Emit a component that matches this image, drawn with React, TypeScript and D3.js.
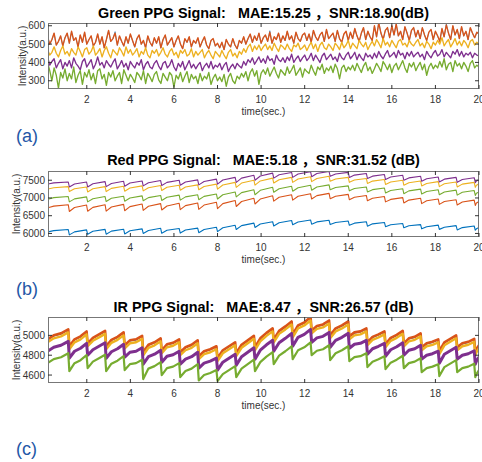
import * as d3 from "d3";

const FONT = "'Liberation Sans', Arial, 'Noto Sans CJK SC', sans-serif";
const BLUE = "#0072BD";
const ORANGE = "#D95319";
const YELLOW = "#EDB120";
const PURPLE = "#7E2F8E";
const GREEN = "#77AC30";

const X0 = 48;
const X1 = 479;
const xTicks = [2, 4, 6, 8, 10, 12, 14, 16, 18, 20];

// green channel: sampled every 0.1 s from 0.2 s
const greenTime = d3.range(199).map((i) => +(0.2 + i * 0.1).toFixed(2));

const gOrange = [
  540, 500, 525, 560, 495, 515, 545, 490, 535, 560,
  505, 570, 520, 535, 485, 550, 510, 565, 500, 525,
  545, 490, 510, 555, 500, 540, 480, 525, 575, 515,
  530, 560, 495, 545, 515, 490, 540, 505, 555, 520,
  485, 530, 550, 500, 520, 480, 545, 510, 490, 535,
  505, 540, 480, 525, 550, 495, 515, 535, 485, 520,
  545, 500, 475, 530, 510, 540, 485, 520, 505, 535,
  485, 515, 540, 495, 475, 520, 530, 490, 505, 480,
  510, 470, 525, 500, 485, 530, 495, 475, 520, 505,
  540, 500, 530, 555, 510, 545, 520, 560, 505, 535,
  550, 515, 565, 505, 540, 525, 560, 510, 545, 520,
  570, 525, 545, 505, 565, 530, 515, 550, 560, 520,
  555, 510, 575, 540, 520, 550, 565, 515, 580, 530,
  545, 560, 515, 575, 530, 510, 555, 570, 520, 565,
  530, 585, 545, 515, 560, 590, 525, 570, 540, 520,
  600, 540, 615, 560, 525, 575, 590, 535, 600, 550,
  610, 545, 570, 525, 595, 560, 520, 575, 590, 540,
  575, 530, 590, 550, 520, 565, 580, 525, 570, 545,
  515, 585, 540, 605, 560, 525, 600, 550, 580, 530,
  595, 545, 570, 525, 590, 560, 535, 565, 555,
];
const gBlue = [
  538, 498, 523, 558, 493, 513, 543, 488, 533, 558,
  503, 568, 518, 533, 483, 548, 508, 563, 498, 523,
  543, 488, 508, 553, 498, 538, 478, 523, 573, 513,
  528, 568, 493, 543, 513, 488, 538, 503, 553, 518,
  483, 528, 548, 498, 518, 478, 543, 508, 488, 533,
  503, 538, 478, 523, 548, 493, 513, 533, 483, 518,
  543, 498, 473, 528, 508, 538, 483, 518, 503, 533,
  483, 513, 538, 493, 473, 518, 528, 488, 503, 478,
  508, 468, 523, 498, 483, 528, 493, 473, 518, 503,
  538, 498, 528, 553, 508, 543, 518, 558, 503, 533,
  548, 513, 573, 503, 538, 523, 558, 508, 543, 518,
  568, 523, 543, 503, 563, 528, 513, 548, 558, 518,
  553, 508, 573, 538, 518, 548, 563, 513, 578, 528,
  543, 558, 513, 573, 528, 508, 553, 568, 518, 563,
  528, 583, 543, 513, 558, 588, 523, 568, 538, 518,
  598, 538, 621, 558, 523, 573, 588, 533, 598, 548,
  608, 543, 568, 523, 593, 558, 518, 573, 588, 538,
  573, 528, 588, 548, 518, 563, 578, 523, 568, 543,
  513, 583, 538, 611, 558, 523, 598, 548, 578, 528,
  593, 543, 568, 523, 588, 558, 533, 563, 553,
];
const gYellow = [
  470, 440, 455, 485, 450, 430, 465, 490, 445, 460,
  435, 475, 455, 440, 485, 460, 430, 470, 480, 445,
  460, 490, 440, 455, 475, 430, 465, 485, 450, 425,
  470, 455, 440, 480, 460, 435, 485, 450, 470, 440,
  455, 475, 430, 460, 445, 480, 440, 425, 465, 450,
  470, 435, 455, 480, 445, 430, 460, 475, 440, 455,
  425, 465, 450, 470, 435, 445, 475, 430, 460, 440,
  455, 470, 425, 450, 465, 440, 420, 460, 445, 430,
  465, 440, 420, 455, 470, 435, 450, 425, 460, 445,
  475, 455, 485, 500, 460, 490, 470, 495, 465, 485,
  500, 470, 490, 465, 505, 480, 460, 495, 485, 470,
  500, 475, 460, 495, 485, 505, 470, 480, 495, 465,
  490, 510, 475, 500, 460, 495, 510, 480, 470, 500,
  485, 465, 505, 490, 470, 510, 480, 495, 520, 475,
  505, 490, 475, 520, 500, 485, 510, 470, 495, 515,
  490, 525, 505, 480, 530, 495, 510, 485, 520, 500,
  480, 515, 525, 495, 505, 485, 520, 500, 490, 510,
  525, 490, 505, 480, 515, 500, 475, 510, 495, 520,
  500, 535, 490, 510, 525, 485, 505, 530, 495, 515,
  490, 520, 505, 480, 515, 525, 495, 510, 500,
];
const gPurple = [
  430, 385, 405, 420, 370, 395, 415, 365, 400, 380,
  410, 370, 425, 395, 380, 360, 405, 420, 375, 395,
  415, 365, 390, 430, 385, 400, 370, 410, 390, 375,
  400, 420, 365, 385, 410, 375, 395, 360, 405, 385,
  370, 400, 385, 415, 360, 390, 405, 375, 365, 395,
  410, 380, 360, 395, 405, 370, 385, 415, 375, 355,
  395, 375, 405, 360, 385, 410, 370, 390, 365, 385,
  400, 355, 380, 395, 370, 405, 365, 385, 375, 395,
  360, 385, 400, 350, 375, 390, 365, 395, 380, 370,
  405, 385, 415, 400, 425, 390, 410, 430, 400, 420,
  395, 435, 410, 420, 390, 440, 415, 405, 425, 400,
  430, 410, 445, 400, 420, 435, 405, 425, 440, 410,
  425, 450, 410, 440, 420, 400, 435, 450, 415, 430,
  445, 415, 430, 405, 450, 425, 415, 440, 455, 420,
  435, 455, 415, 445, 425, 410, 450, 430, 440, 420,
  450, 425, 460, 435, 420, 445, 465, 430, 440, 455,
  425, 465, 440, 450, 420, 455, 435, 460, 430, 445,
  455, 430, 445, 415, 460, 440, 425, 450, 465, 435,
  445, 470, 430, 455, 440, 425, 460, 445, 470, 435,
  460, 430, 450, 440, 455, 425, 450, 440, 435,
];
const gGreen = [
  400, 355, 300, 370, 330, 260, 345, 315, 365, 300,
  340, 310, 375, 290, 330, 355, 280, 345, 320, 360,
  305, 340, 285, 355, 365, 310, 335, 275, 345, 320,
  355, 300, 325, 345, 285, 360, 330, 300, 335, 315,
  290, 345, 330, 305, 355, 285, 340, 320, 295, 335,
  350, 305, 285, 340, 320, 300, 345, 330, 265, 330,
  310, 345, 295, 325, 350, 290, 335, 310, 325, 285,
  340, 300, 325, 310, 345, 280, 315, 335, 300, 320,
  295, 335, 270, 320, 340, 300, 285, 325, 310, 340,
  320, 350, 300, 345, 365, 325, 355, 280, 340, 360,
  335, 370, 325, 350, 375, 340, 315, 360, 345, 330,
  375, 340, 360, 385, 330, 350, 370, 320, 365, 350,
  340, 385, 355, 330, 375, 360, 390, 340, 370, 355,
  380, 345, 390, 365, 310, 370, 385, 350, 375, 360,
  385, 355, 395, 370, 345, 380, 400, 355, 375, 340,
  365, 395, 375, 350, 405, 385, 360, 390, 345, 380,
  395, 360, 385, 410, 370, 345, 395, 375, 400, 355,
  380, 400, 360, 390, 330, 375, 395, 365, 385, 370,
  405, 375, 420, 360, 390, 400, 350, 410, 380, 395,
  365, 400, 380, 350, 395, 410, 370, 385, 375,
];

// red / IR channels follow the heart beats: values just after each drop, along the rise and at the next drop
const beatTimes = [
  1.15, 1.99, 2.84, 3.69, 4.54, 5.39, 6.24, 7.09, 7.95, 8.81, 9.67, 10.53,
  11.4, 12.27, 13.12, 14.0, 14.83, 15.66, 16.5, 17.32, 18.13, 18.95, 19.78,
];

const rBlueLow = [6040, 5960, 5975, 5980, 5985, 6000, 6005, 6010, 6020, 6050, 6110, 6170, 6210, 6245, 6260, 6250, 6230, 6205, 6190, 6160, 6130, 6115, 6100, 6090];
const rBlueMid = [6080, 6045, 6060, 6065, 6075, 6085, 6090, 6095, 6110, 6160, 6220, 6265, 6300, 6325, 6325, 6310, 6290, 6270, 6245, 6215, 6190, 6175, 6165, 6130];
const rBlueHigh = [6110, 6100, 6115, 6120, 6130, 6145, 6140, 6150, 6175, 6230, 6290, 6330, 6365, 6380, 6370, 6350, 6330, 6310, 6280, 6250, 6235, 6220, 6210, 6170];

const rOrangeLow = [6720, 6620, 6625, 6630, 6640, 6650, 6660, 6670, 6680, 6700, 6760, 6830, 6910, 6940, 6970, 6980, 6950, 6920, 6890, 6860, 6840, 6820, 6800, 6790];
const rOrangeMid = [6770, 6730, 6735, 6745, 6755, 6765, 6775, 6785, 6800, 6840, 6900, 6970, 7020, 7050, 7065, 7050, 7020, 6990, 6960, 6940, 6920, 6900, 6885, 6860];
const rOrangeHigh = [6810, 6800, 6810, 6820, 6830, 6840, 6850, 6860, 6880, 6930, 6990, 7060, 7090, 7120, 7130, 7100, 7070, 7040, 7010, 6990, 6970, 6950, 6940, 6900];

const rYellowLow = [7250, 7180, 7170, 7180, 7190, 7200, 7210, 7220, 7230, 7250, 7300, 7360, 7420, 7440, 7460, 7470, 7440, 7410, 7380, 7360, 7340, 7320, 7310, 7300];
const rYellowMid = [7290, 7260, 7260, 7270, 7280, 7290, 7300, 7310, 7325, 7365, 7420, 7480, 7515, 7535, 7550, 7535, 7505, 7475, 7450, 7430, 7410, 7400, 7390, 7360];
const rYellowHigh = [7320, 7310, 7320, 7330, 7340, 7350, 7360, 7370, 7390, 7440, 7500, 7560, 7580, 7600, 7610, 7580, 7550, 7520, 7500, 7480, 7460, 7450, 7440, 7400];

const rPurpleLow = [7390, 7310, 7310, 7320, 7330, 7340, 7350, 7360, 7370, 7390, 7440, 7500, 7560, 7580, 7600, 7610, 7580, 7550, 7520, 7500, 7470, 7450, 7440, 7430];
const rPurpleMid = [7425, 7395, 7400, 7410, 7420, 7430, 7440, 7450, 7465, 7505, 7560, 7620, 7655, 7675, 7690, 7675, 7645, 7615, 7590, 7565, 7540, 7530, 7520, 7480];
const rPurpleHigh = [7450, 7450, 7460, 7470, 7480, 7490, 7500, 7510, 7530, 7580, 7640, 7700, 7720, 7740, 7750, 7720, 7690, 7660, 7640, 7610, 7590, 7580, 7570, 7520];

const rGreenLow = [6960, 6890, 6890, 6900, 6910, 6920, 6930, 6940, 6950, 6970, 7030, 7090, 7160, 7190, 7220, 7230, 7200, 7170, 7140, 7120, 7110, 7090, 7080, 7070];
const rGreenMid = [7010, 6975, 6980, 6990, 7000, 7010, 7020, 7030, 7045, 7090, 7150, 7215, 7260, 7290, 7310, 7295, 7265, 7235, 7210, 7200, 7180, 7170, 7160, 7130];
const rGreenHigh = [7040, 7030, 7040, 7050, 7060, 7070, 7080, 7090, 7110, 7170, 7230, 7300, 7330, 7360, 7370, 7340, 7310, 7280, 7260, 7250, 7230, 7220, 7210, 7170];

const iBlueLow = [4955, 4885, 4915, 4885, 4895, 4825, 4845, 4825, 4785, 4765, 4815, 4875, 4955, 5005, 5045, 4995, 4985, 4925, 4905, 4915, 4875, 4835, 4875, 4825];
const iBlueA = [4995, 4955, 4970, 4950, 4945, 4900, 4905, 4875, 4835, 4845, 4900, 4965, 5040, 5095, 5090, 5065, 5025, 4980, 4970, 4965, 4915, 4925, 4915, 4855];
const iBlueB = [5015, 4985, 5005, 4980, 4955, 4925, 4920, 4900, 4855, 4885, 4945, 5020, 5085, 5125, 5105, 5095, 5035, 5005, 5000, 4980, 4930, 4960, 4930, 4875];
const iBlueHigh = [5055, 5035, 5040, 5025, 4990, 4965, 4955, 4945, 4885, 4925, 4990, 5065, 5135, 5180, 5145, 5135, 5065, 5035, 5040, 5015, 4955, 4995, 4960, 4895];

const iOrangeLow = [4960, 4890, 4920, 4890, 4900, 4830, 4850, 4830, 4790, 4770, 4820, 4880, 4960, 5010, 5050, 5000, 4990, 4930, 4910, 4920, 4880, 4840, 4880, 4830];
const iOrangeA = [5000, 4960, 4975, 4955, 4950, 4905, 4910, 4880, 4840, 4850, 4905, 4970, 5045, 5100, 5095, 5070, 5030, 4985, 4975, 4970, 4920, 4930, 4920, 4860];
const iOrangeB = [5020, 4990, 5010, 4985, 4960, 4930, 4925, 4905, 4860, 4890, 4950, 5025, 5090, 5130, 5110, 5100, 5040, 5010, 5005, 4985, 4935, 4965, 4935, 4880];
const iOrangeHigh = [5060, 5040, 5045, 5030, 4995, 4970, 4960, 4950, 4890, 4930, 4995, 5070, 5140, 5185, 5150, 5140, 5070, 5040, 5045, 5020, 4960, 5000, 4965, 4900];

const iYellowLow = [4930, 4860, 4890, 4860, 4870, 4800, 4820, 4800, 4760, 4740, 4790, 4850, 4930, 4980, 5020, 4970, 4960, 4900, 4880, 4890, 4850, 4810, 4850, 4800];
const iYellowA = [4970, 4930, 4945, 4925, 4920, 4875, 4880, 4850, 4810, 4820, 4875, 4940, 5015, 5070, 5065, 5040, 5000, 4955, 4945, 4940, 4890, 4900, 4890, 4830];
const iYellowB = [4990, 4960, 4980, 4955, 4930, 4900, 4895, 4875, 4830, 4860, 4920, 4995, 5060, 5100, 5080, 5070, 5010, 4980, 4975, 4955, 4905, 4935, 4905, 4850];
const iYellowHigh = [5030, 5010, 5015, 5000, 4965, 4940, 4930, 4920, 4860, 4900, 4965, 5040, 5110, 5150, 5120, 5110, 5040, 5010, 5015, 4990, 4930, 4970, 4935, 4870];

const iPurpleLow = [4840, 4770, 4800, 4770, 4780, 4710, 4730, 4710, 4670, 4650, 4700, 4760, 4840, 4890, 4930, 4880, 4870, 4810, 4790, 4800, 4760, 4720, 4760, 4710];
const iPurpleA = [4880, 4840, 4855, 4835, 4830, 4785, 4790, 4760, 4720, 4730, 4785, 4850, 4925, 4980, 4975, 4950, 4910, 4865, 4855, 4850, 4800, 4810, 4800, 4740];
const iPurpleB = [4900, 4870, 4890, 4865, 4840, 4810, 4805, 4785, 4740, 4770, 4830, 4905, 4970, 5010, 4990, 4980, 4920, 4890, 4885, 4865, 4815, 4845, 4815, 4760];
const iPurpleHigh = [4940, 4920, 4925, 4910, 4875, 4850, 4840, 4830, 4770, 4810, 4875, 4950, 5020, 5060, 5030, 5020, 4950, 4920, 4925, 4900, 4840, 4880, 4845, 4780];

const iGreenLow = [4720, 4640, 4670, 4640, 4650, 4560, 4600, 4580, 4545, 4540, 4580, 4640, 4710, 4760, 4800, 4750, 4740, 4680, 4660, 4670, 4630, 4590, 4630, 4580];
const iGreenA = [4760, 4720, 4735, 4715, 4710, 4665, 4670, 4640, 4600, 4610, 4665, 4730, 4795, 4850, 4845, 4820, 4780, 4735, 4725, 4720, 4670, 4680, 4670, 4610];
const iGreenB = [4780, 4750, 4770, 4745, 4720, 4690, 4685, 4665, 4620, 4650, 4710, 4785, 4840, 4880, 4860, 4850, 4790, 4760, 4755, 4735, 4685, 4715, 4685, 4630];
const iGreenHigh = [4820, 4800, 4805, 4790, 4755, 4730, 4720, 4710, 4650, 4690, 4755, 4830, 4890, 4930, 4900, 4890, 4820, 4790, 4795, 4770, 4710, 4750, 4715, 4650];

type Pt = [number, number];

function gridPoints(values: number[]): Pt[] {
  return values.map((v, i) => [greenTime[i], v]);
}

// each list holds one value per beat interval, placed at the given fraction of that interval
function beatPoints(lists: number[][], fracs: number[]): Pt[] {
  const pts: Pt[] = [];
  for (let k = 0; k < lists[0].length; k++) {
    const s = k === 0 ? 0.2 : beatTimes[k - 1] + 0.05;
    const e = k === beatTimes.length ? 20 : beatTimes[k];
    lists.forEach((vals, j) => pts.push([s + (e - s) * fracs[j], vals[k]]));
  }
  return pts;
}

type Series = { color: string; width: number; points: Pt[] };

function Panel(props: {
  id: string;
  top: number;
  bottom: number;
  yDomain: [number, number];
  yTicks: number[];
  title: string;
  titleY: number;
  ylabelX: number;
  series: Series[];
  tag: string;
  tagY: number;
}) {
  const { id, top, bottom, yDomain, yTicks, title, titleY, ylabelX, series, tag, tagY } = props;
  const x = d3.scaleLinear().domain([0.22, 20]).range([X0, X1]);
  const y = d3.scaleLinear().domain(yDomain).range([bottom, top]);
  const line = d3
    .line<Pt>()
    .x((d) => x(d[0]))
    .y((d) => y(d[1]));
  const tk = 4;
  return (
    <g fontFamily={FONT}>
      <defs>
        <clipPath id={id}>
          <rect x={X0} y={top} width={X1 - X0} height={bottom - top} />
        </clipPath>
      </defs>
      <rect x={X0} y={top} width={X1 - X0} height={bottom - top} fill="white" />
      <g clipPath={`url(#${id})`}>
        {series.map((s, i) => (
          <path
            key={i}
            d={line(s.points) || ""}
            fill="none"
            stroke={s.color}
            strokeWidth={s.width}
            strokeLinejoin="round"
          />
        ))}
      </g>
      <rect
        x={X0 + 0.5}
        y={top + 0.5}
        width={X1 - X0 - 1}
        height={bottom - top - 1}
        fill="none"
        stroke="#777"
        strokeWidth={1}
      />
      {xTicks.map((t) => (
        <g key={"x" + t}>
          <line x1={x(t)} x2={x(t)} y1={bottom} y2={bottom - tk} stroke="#333" />
          <line x1={x(t)} x2={x(t)} y1={top} y2={top + tk} stroke="#333" />
          <text x={x(t)} y={bottom + 13.5} fontSize={10} fill="#333" textAnchor="middle">
            {t}
          </text>
        </g>
      ))}
      {yTicks.map((v) => (
        <g key={"y" + v}>
          <line x1={X0} x2={X0 + tk} y1={y(v)} y2={y(v)} stroke="#333" />
          <line x1={X1} x2={X1 - tk} y1={y(v)} y2={y(v)} stroke="#333" />
          <text x={X0 - 3} y={y(v) + 3.5} fontSize={10} fill="#333" textAnchor="end">
            {v}
          </text>
        </g>
      ))}
      <text
        x={(X0 + X1) / 2}
        y={titleY}
        fontSize={14.4}
        fontWeight="bold"
        fill="#000"
        textAnchor="middle"
        style={{ whiteSpace: "pre" }}
      >
        {title}
      </text>
      <text x={(X0 + X1) / 2} y={bottom + 26} fontSize={10} fill="#333" textAnchor="middle">
        time(sec.)
      </text>
      <text
        transform={`translate(${ylabelX},${(top + bottom) / 2}) rotate(-90)`}
        fontSize={10}
        fill="#333"
        textAnchor="middle"
      >
        Intensity(a.u.)
      </text>
      <text x={16} y={tagY} fontSize={18} fill="#2457A6">
        {tag}
      </text>
    </g>
  );
}

export default function App() {
  const f3 = [0, 0.3, 1];
  const f4 = [0, 0.3, 0.65, 1];
  const greenSeries: Series[] = [
    { color: BLUE, width: 0.6, points: gridPoints(gBlue) },
    { color: ORANGE, width: 1.35, points: gridPoints(gOrange) },
    { color: YELLOW, width: 1.35, points: gridPoints(gYellow) },
    { color: PURPLE, width: 1.35, points: gridPoints(gPurple) },
    { color: GREEN, width: 1.35, points: gridPoints(gGreen) },
  ];
  const redSeries: Series[] = [
    { color: BLUE, width: 1.1, points: beatPoints([rBlueLow, rBlueMid, rBlueHigh], f3) },
    { color: ORANGE, width: 1.1, points: beatPoints([rOrangeLow, rOrangeMid, rOrangeHigh], f3) },
    { color: YELLOW, width: 1.1, points: beatPoints([rYellowLow, rYellowMid, rYellowHigh], f3) },
    { color: PURPLE, width: 1.1, points: beatPoints([rPurpleLow, rPurpleMid, rPurpleHigh], f3) },
    { color: GREEN, width: 1.1, points: beatPoints([rGreenLow, rGreenMid, rGreenHigh], f3) },
  ];
  const irSeries: Series[] = [
    { color: BLUE, width: 1.2, points: beatPoints([iBlueLow, iBlueA, iBlueB, iBlueHigh], f4) },
    { color: ORANGE, width: 2.6, points: beatPoints([iOrangeLow, iOrangeA, iOrangeB, iOrangeHigh], f4) },
    { color: YELLOW, width: 2.4, points: beatPoints([iYellowLow, iYellowA, iYellowB, iYellowHigh], f4) },
    { color: PURPLE, width: 3, points: beatPoints([iPurpleLow, iPurpleA, iPurpleB, iPurpleHigh], f4) },
    { color: GREEN, width: 2.2, points: beatPoints([iGreenLow, iGreenA, iGreenB, iGreenHigh], f4) },
  ];
  return (
    <svg
      width={482}
      height={462}
      style={{ position: "absolute", left: 0, top: 0, background: "white" }}
    >
      <Panel
        id="clipG"
        top={23}
        bottom={89}
        yDomain={[255, 615]}
        yTicks={[300, 400, 500, 600]}
        title={"Green PPG Signal:   MAE:15.25 \uFF0CSNR:18.90(dB)"}
        titleY={18}
        ylabelX={25.5}
        series={greenSeries}
        tag="(a)"
        tagY={142}
      />
      <Panel
        id="clipR"
        top={171}
        bottom={237}
        yDomain={[5900, 7760]}
        yTicks={[6000, 6500, 7000, 7500]}
        title={"Red PPG Signal:   MAE:5.18 \uFF0CSNR:31.52 (dB)"}
        titleY={165}
        ylabelX={20}
        series={redSeries}
        tag="(b)"
        tagY={295}
      />
      <Panel
        id="clipI"
        top={317}
        bottom={383}
        yDomain={[4520, 5185]}
        yTicks={[4600, 4800, 5000]}
        title={"IR PPG Signal:   MAE:8.47 \uFF0CSNR:26.57 (dB)"}
        titleY={312}
        ylabelX={20}
        series={irSeries}
        tag="(c)"
        tagY={455}
      />
    </svg>
  );
}
